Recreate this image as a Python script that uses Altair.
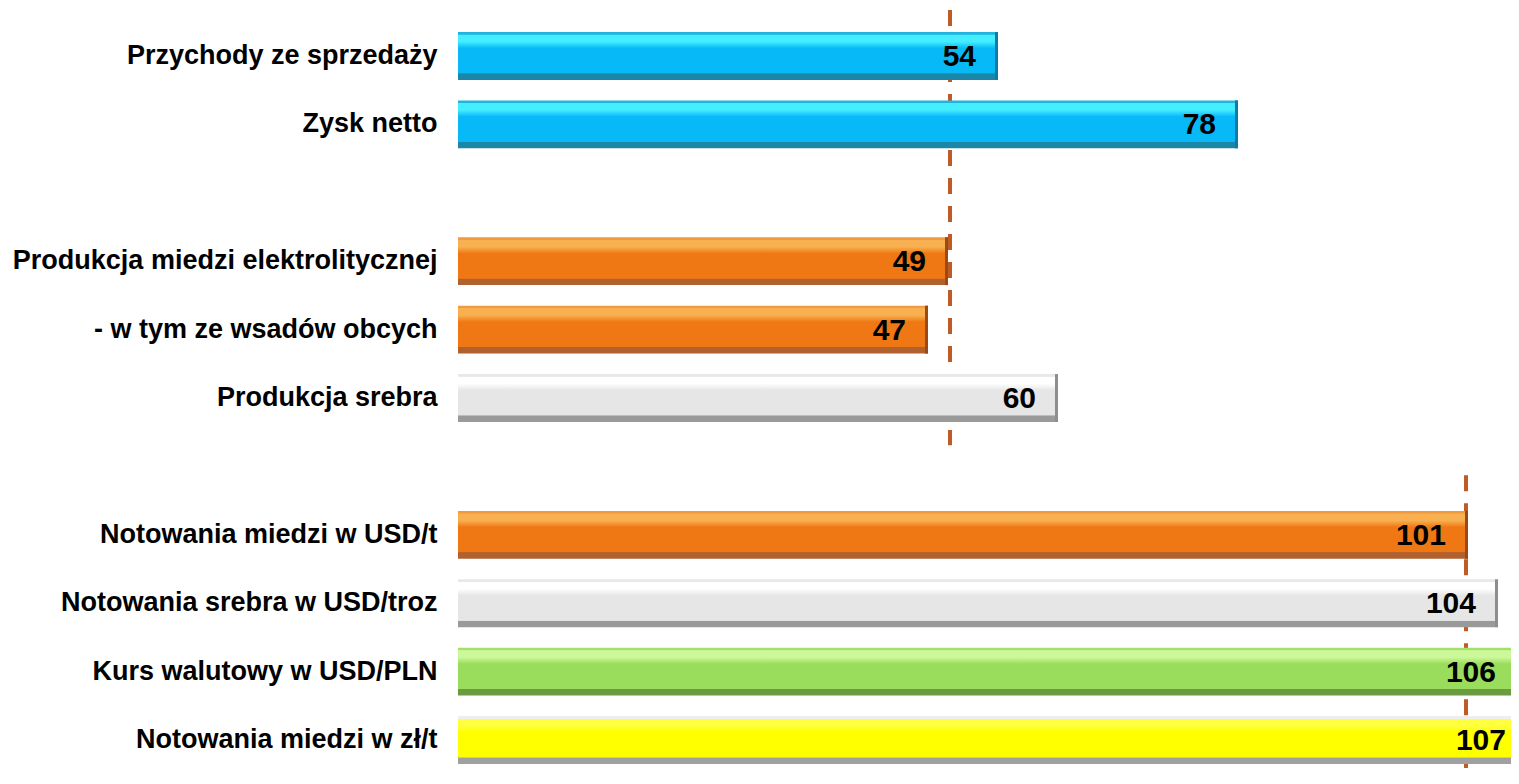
import altair as alt
import pandas as pd

# ---- data ----
categories = [
    "Przychody ze sprzedaży",
    "Zysk netto",
    " ",
    "Produkcja miedzi elektrolitycznej",
    "- w tym ze wsadów obcych",
    "Produkcja srebra",
    "  ",
    "Notowania miedzi w USD/t",
    "Notowania srebra w USD/troz",
    "Kurs walutowy w USD/PLN",
    "Notowania miedzi w zł/t",
]
values = [54, 78, None, 49, 47, 60, None, 101, 104, 106, 107]
styles = ["blue", "blue", "gap", "orange", "orange", "silver", "gap",
          "orange", "silver", "green", "yellow"]

ref_values = [49.2, 100.8]
ref_first_row = [0, 7]
ref_last_row = [5, 10]

# ---- styling ----
palette = {
    #         edge       highlight  main       bottom     right edge
    "blue":   ("#22B4E0", "#44EEFF", "#08B9F8", "#1A87A8", "#0A7CA6"),
    "orange": ("#F29A40", "#F8B050", "#F07814", "#B0612E", "#9A4A12"),
    "silver": ("#E8E8E8", "#FFFFFF", "#E6E6E6", "#9A9A9A", "#8E8E8E"),
    "green":  ("#A2E068", "#CCF89A", "#9ADC5C", "#6B9A42", "#5E8A38"),
    "yellow": ("#EEEEEE", "#FFFF40", "#FFFF00", "#A0A0A0", "#C8C800"),
}


def grad(edge, hi, main, dark):
    return alt.Gradient(
        gradient="linear", x1=0, x2=0, y1=0, y2=1,
        stops=[
            alt.GradientStop(offset=0.0, color=edge),
            alt.GradientStop(offset=0.05, color=edge),
            alt.GradientStop(offset=0.06, color=hi),
            alt.GradientStop(offset=0.2, color=hi),
            alt.GradientStop(offset=0.34, color=main),
            alt.GradientStop(offset=0.86, color=main),
            alt.GradientStop(offset=0.87, color=dark),
            alt.GradientStop(offset=1.0, color=dark),
        ],
    )


df = pd.DataFrame({"cat": categories, "value": values, "style": styles})
bars_df = df[df["style"] != "gap"].copy()

ROW_BAND = 0.7
overhang_top = [0.32, 0.52]
overhang_bot = [0.34, 0.06]
ref_df = pd.DataFrame({
    "value": ref_values,
    "y0": [f - o for f, o in zip(ref_first_row, overhang_top)],
    "y1": [l + ROW_BAND + o for l, o in zip(ref_last_row, overhang_bot)],
})

W, H = 1053, 732
n_rows = len(categories)

xscale = alt.Scale(domain=[0, 105.3], nice=False, zero=True)
yscale = alt.Scale(domain=categories, paddingInner=1 - ROW_BAND, paddingOuter=0)
yaxis = alt.Axis(
    title=None, ticks=False, domain=False, labelPadding=21,
    labelFont="Liberation Sans", labelFontWeight="bold", labelFontSize=27,
    labelColor="black", labelLimit=1000, grid=False,
)
Y = alt.Y("cat:N", scale=yscale, sort=categories, axis=yaxis)
X = alt.X("value:Q", scale=xscale, axis=None)

rules = alt.Chart(ref_df).mark_rule(
    color="#BE5B26", strokeWidth=4, strokeDash=[16, 12]
).encode(
    x=X,
    y=alt.Y("y0:Q", scale=alt.Scale(domain=[0, n_rows - (1 - ROW_BAND)],
                                    reverse=True, nice=False, zero=False),
            axis=None),
    y2="y1:Q",
)

layers = []
for s in ["blue", "orange", "silver", "green", "yellow"]:
    e, h, m, d, _ = palette[s]
    layers.append(
        alt.Chart(bars_df).transform_filter(alt.datum.style == s)
        .mark_bar(color=grad(e, h, m, d), clip=True)
        .encode(x=X, y=Y)
    )

edge_tick = alt.Chart(bars_df).mark_tick(
    orient="vertical", thickness=3, size=H / (n_rows - (1 - ROW_BAND)) * ROW_BAND,
    xOffset=-1.5, clip=True, opacity=1
).encode(
    x=X, y=Y,
    color=alt.Color("style:N", legend=None,
                    scale=alt.Scale(domain=list(palette.keys()),
                                    range=[palette[k][4] for k in palette])),
)

labels = alt.Chart(bars_df).mark_text(
    align="right", baseline="middle", dx=-22, dy=1,
    font="Liberation Sans", fontWeight="bold", fontSize=30, color="black"
).encode(
    x=X, y=Y,
    text=alt.Text("value:Q", format="d"),
)

bars = alt.layer(*layers, edge_tick, labels)

chart = alt.layer(rules, bars).resolve_scale(y="independent").properties(
    width=W, height=H,
    padding={"left": 450, "top": 24, "right": 0, "bottom": 4},
    autosize=alt.AutoSizeParams(type="none"),
    background="white",
).configure_view(stroke=None)

chart.save("out.html", embed_options={"renderer": "svg", "actions": False})
